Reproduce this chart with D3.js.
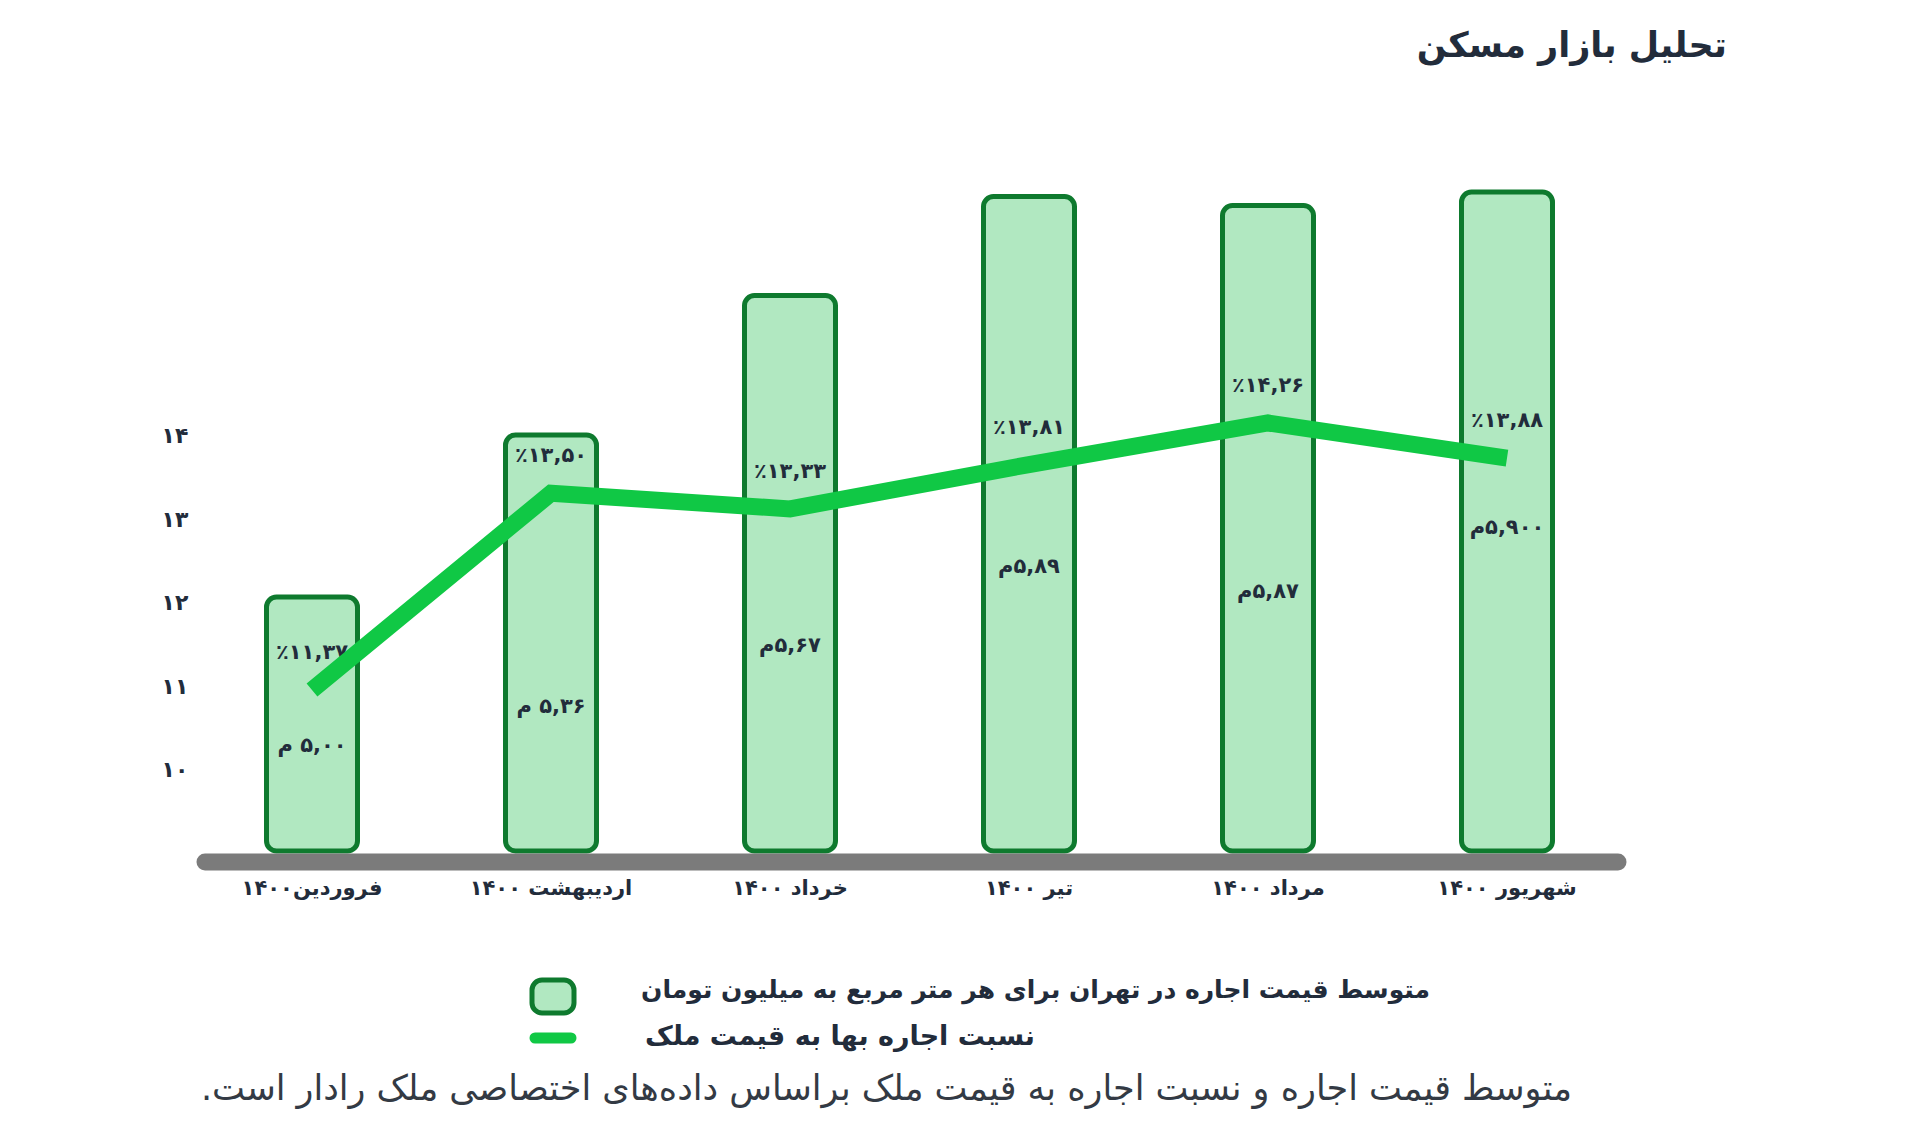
<!DOCTYPE html>
<html>
<head>
<meta charset="utf-8">
<script src="https://cdn.jsdelivr.net/npm/d3@7"></script>
<style>
  body { margin: 0; background: #fff; }
  svg { display: block; }
  text { font-family: "DejaVu Sans", sans-serif; }
</style>
</head>
<body>
<svg id="chart"></svg>
<script>
// data
const months = ["فروردین۱۴۰۰", "اردیبهشت ۱۴۰۰", "خرداد ۱۴۰۰", "تیر ۱۴۰۰", "مرداد ۱۴۰۰", "شهریور ۱۴۰۰"];
const rentPrice = [5.00, 5.36, 5.67, 5.89, 5.87, 5.90];
const rentPriceLabels = ["۵,۰۰ م", "۵,۳۶ م", "۵,۶۷م", "۵,۸۹م", "۵,۸۷م", "۵,۹۰۰م"];
const rentRatio = [11.37, 13.50, 13.33, 13.81, 14.26, 13.88];
const rentRatioLabels = ["٪۱۱,۳۷", "٪۱۳,۵۰", "٪۱۳,۳۳", "٪۱۳,۸۱", "٪۱۴,۲۶", "٪۱۳,۸۸"];
const yTicks = [10, 11, 12, 13, 14];

const title = "تحلیل بازار مسکن";
const legendBars = "متوسط قیمت اجاره در تهران برای هر متر مربع به میلیون تومان";
const legendLine = "نسبت اجاره بها به قیمت ملک";
const caption = "متوسط قیمت اجاره و نسبت اجاره به قیمت ملک براساس داده‌های اختصاصی ملک رادار است.";

// layout: vertical spot of the price label inside each bar
const priceLabelY = [746, 707, 646, 567, 592, 528];

const width = 1920, height = 1148;
const ink = "#222c3b";

const toFa = n => String(n).replace(/\d/g, d => "۰۱۲۳۴۵۶۷۸۹"[d]);

const svg = d3.select("#chart").attr("width", width).attr("height", height);

const x = d3.scalePoint().domain(months).range([312, 1507]);
const barW = 91;
const yBar = d3.scaleLinear().domain([4.4356, 6]).range([851, 147]);
const yLine = d3.scaleLinear().domain([10, 15]).range([816.6, 354.6]);
const yTick = d3.scaleLinear().domain([10, 14]).range([771, 437]);

// title
svg.append("text")
  .attr("x", 1727).attr("y", 47)
  .attr("direction", "rtl").attr("text-anchor", "start")
  .attr("dominant-baseline", "middle")
  .style("font-size", "35px").style("font-weight", "bold")
  .style("fill", ink)
  .text(title);

// bars
svg.append("g").selectAll("rect")
  .data(rentPrice)
  .enter()
  .append("rect")
  .attr("x", (d, i) => x(months[i]) - barW / 2)
  .attr("y", d => yBar(d))
  .attr("width", barW)
  .attr("height", d => yBar.range()[0] - yBar(d))
  .attr("rx", 10)
  .style("fill", "#b1e8c1")
  .style("stroke", "#0e7a2e")
  .style("stroke-width", 5);

// baseline
svg.append("line")
  .attr("x1", 205).attr("x2", 1618)
  .attr("y1", 862).attr("y2", 862)
  .style("stroke", "#7b7b7b")
  .style("stroke-width", 17)
  .style("stroke-linecap", "round");

// y tick labels
svg.append("g").selectAll("text")
  .data(yTicks)
  .enter()
  .append("text")
  .attr("x", 175)
  .attr("y", d => yTick(d))
  .attr("text-anchor", "middle")
  .attr("dominant-baseline", "middle")
  .style("font-size", "22px").style("font-weight", "bold")
  .style("fill", ink)
  .text(d => toFa(d));

// labels inside bars
svg.append("g").selectAll("text")
  .data(rentRatioLabels)
  .enter()
  .append("text")
  .attr("x", (d, i) => x(months[i]))
  .attr("y", (d, i) => yLine(rentRatio[i]) - 37)
  .attr("direction", "rtl")
  .attr("text-anchor", "middle")
  .attr("dominant-baseline", "middle")
  .style("font-size", "21px").style("font-weight", "bold")
  .style("fill", ink)
  .text(d => d);

svg.append("g").selectAll("text")
  .data(rentPriceLabels)
  .enter()
  .append("text")
  .attr("x", (d, i) => x(months[i]))
  .attr("y", (d, i) => priceLabelY[i])
  .attr("direction", "rtl")
  .attr("text-anchor", "middle")
  .attr("dominant-baseline", "middle")
  .style("font-size", "21px").style("font-weight", "bold")
  .style("fill", ink)
  .text(d => d);

// ratio line
const line = d3.line()
  .x((d, i) => x(months[i]))
  .y(d => yLine(d));

svg.append("path")
  .datum(rentRatio)
  .attr("d", line)
  .style("fill", "none")
  .style("stroke", "#10c845")
  .style("stroke-width", 17)
  .style("stroke-linejoin", "miter");

// month labels
svg.append("g").selectAll("text")
  .data(months)
  .enter()
  .append("text")
  .attr("x", d => x(d))
  .attr("y", 889)
  .attr("direction", "rtl")
  .attr("text-anchor", "middle")
  .attr("dominant-baseline", "middle")
  .style("font-size", "21px").style("font-weight", "bold")
  .style("fill", ink)
  .text(d => d);

// legend
const legend = svg.append("g");
legend.append("rect")
  .attr("x", 532).attr("y", 980)
  .attr("width", 42).attr("height", 33)
  .attr("rx", 10)
  .style("fill", "#b1e8c1")
  .style("stroke", "#0e7a2e")
  .style("stroke-width", 5);
legend.append("line")
  .attr("x1", 535).attr("x2", 571)
  .attr("y1", 1038).attr("y2", 1038)
  .style("stroke", "#10c845")
  .style("stroke-width", 11)
  .style("stroke-linecap", "round");
legend.append("text")
  .attr("x", 1430).attr("y", 991)
  .attr("direction", "rtl").attr("text-anchor", "start")
  .attr("dominant-baseline", "middle")
  .style("font-size", "25px").style("font-weight", "bold")
  .style("fill", ink)
  .text(legendBars);
legend.append("text")
  .attr("x", 1035).attr("y", 1037)
  .attr("direction", "rtl").attr("text-anchor", "start")
  .attr("dominant-baseline", "middle")
  .style("font-size", "27px").style("font-weight", "bold")
  .style("fill", ink)
  .text(legendLine);

// caption
svg.append("text")
  .attr("x", 1572).attr("y", 1090)
  .attr("direction", "rtl").attr("text-anchor", "start")
  .attr("dominant-baseline", "middle")
  .style("font-size", "35px")
  .style("fill", "#333a44")
  .text(caption);
</script>
</body>
</html>
